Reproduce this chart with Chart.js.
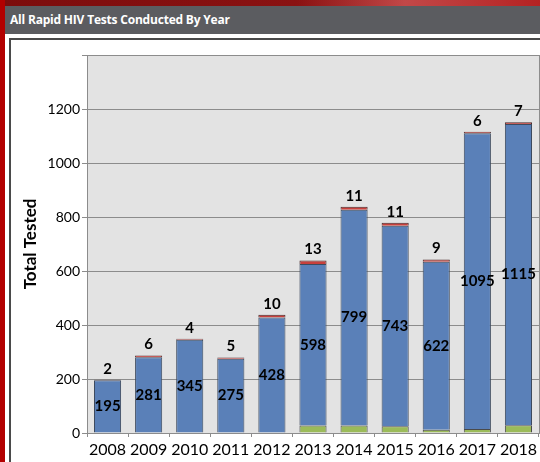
<!DOCTYPE html>
<html>
<head>
<meta charset="utf-8">
<script src="https://cdn.jsdelivr.net/npm/chart.js@4"></script>
<style>
    body { margin: 0; background: #fff; overflow: hidden; width: 540px; height: 462px; position: relative; }
    .topStrip { position: absolute; left: 0; top: 0; width: 540px; height: 6px;
        background: linear-gradient(to right, #7c0c0c, #8a1212 55%, #c24848 75%, #b52222); }
    .leftStrip { position: absolute; left: 0; top: 0; width: 5px; height: 462px; background: #b30000; }
    .titleBar { position: absolute; left: 5px; top: 6px; width: 535px; height: 28px; background: #5b5c60;
        color: #fff; font: bold 12px "Open Sans", sans-serif; letter-spacing: -0.2px; line-height: 28px; padding-left: 5px; box-sizing: border-box; }
    .panel { position: absolute; left: 9px; top: 38px; width: 531px; height: 424px;
        border-top: 2px solid #4a4a4a; border-left: 2px solid #4a4a4a; box-sizing: border-box; }
    .chartBox { position: absolute; left: 0; top: 38px; width: 540px; height: 424px; }
</style>
</head>
<body>
<div class="topStrip"></div>
<div class="leftStrip"></div>
<div class="titleBar">All Rapid HIV Tests Conducted By Year</div>
<div class="panel"></div>
<div class="chartBox"><canvas id="myChart" width="540" height="424"></canvas></div>
<script>
    // данные по годам
    const years = ['2008', '2009', '2010', '2011', '2012', '2013', '2014', '2015', '2016', '2017', '2018'];
    const greenValues = [0, 0, 0, 0, 0, 28, 28, 25, 12, 15, 29];
    const blueValues = [195, 281, 345, 275, 428, 598, 799, 743, 622, 1095, 1115];
    const redValues = [2, 6, 4, 5, 10, 13, 11, 11, 9, 6, 7];
    const yTicks = [0, 200, 400, 600, 800, 1000, 1200, 1400];

    // фон и рамка области графика
    const plotBackground = {
        id: 'plotBackground',
        beforeDraw(chart) {
            const a = chart.chartArea;
            const ctx = chart.ctx;
            ctx.save();
            ctx.fillStyle = '#e3e3e3';
            ctx.fillRect(a.left, a.top, a.right - a.left, a.bottom - a.top);
            ctx.restore();
        },
        beforeDatasetsDraw(chart) {
            const a = chart.chartArea;
            const ctx = chart.ctx;
            ctx.save();
            ctx.strokeStyle = '#8c8c8c';
            ctx.lineWidth = 1;
            ctx.strokeRect(a.left + 0.5, a.top + 0.5, a.right - a.left, a.bottom - a.top);
            ctx.restore();
        }
    };

    // подписи значений
    const valueLabels = {
        id: 'valueLabels',
        afterDatasetsDraw(chart) {
            const ctx = chart.ctx;
            ctx.save();
            ctx.fillStyle = '#000';
            ctx.font = 'bold 15px Lato, sans-serif';
            ctx.textAlign = 'center';
            ctx.textBaseline = 'middle';
            chart.getDatasetMeta(1).data.forEach((bar, i) => {
                ctx.fillText(blueValues[i], bar.x, (bar.y + bar.base) / 2);
            });
            chart.getDatasetMeta(2).data.forEach((bar, i) => {
                ctx.fillText(redValues[i], bar.x, bar.y - 11);
            });
            ctx.restore();
        }
    };

    const ctx = document.getElementById('myChart').getContext('2d');
    new Chart(ctx, {
        type: 'bar',
        data: {
            labels: years,
            datasets: [
                { label: 'green', data: greenValues, backgroundColor: '#9bbb59', borderColor: '#4a4a4a', borderWidth: 1 },
                { label: 'blue', data: blueValues, backgroundColor: '#5a80b8', borderColor: '#3d4a5e', borderWidth: 1 },
                { label: 'red', data: redValues, backgroundColor: '#c8403c', borderColor: '#4a2a2a', borderWidth: 1 }
            ]
        },
        options: {
            responsive: false,
            animation: false,
            layout: { padding: { left: 0, right: 0, top: 17, bottom: 0 } },
            datasets: { bar: { categoryPercentage: 1, barPercentage: 0.66 } },
            plugins: { legend: { display: false }, tooltip: { enabled: false } },
            scales: {
                x: {
                    stacked: true,
                    grid: { drawOnChartArea: false, drawTicks: true, tickLength: 4, color: '#8c8c8c' },
                    border: { color: '#8c8c8c' },
                    ticks: { color: '#000', font: { family: 'Lato', size: 16 }, padding: 3, maxRotation: 0 },
                    afterFit: s => { s.height = 29; }
                },
                y: {
                    stacked: true,
                    min: 0,
                    max: 1400,
                    afterBuildTicks: s => { s.ticks = yTicks.map(v => ({ value: v })); },
                    ticks: {
                        color: '#000',
                        font: { family: 'Lato', size: 14 },
                        padding: 2,
                        callback: v => v === 1400 ? '' : v
                    },
                    grid: { color: '#8c8c8c', tickLength: 5 },
                    border: { color: '#8c8c8c' },
                    title: {
                        display: true,
                        text: 'Total Tested',
                        color: '#000',
                        font: { family: 'Lato', size: 17, weight: 'bold' },
                        padding: { top: 20, bottom: 0 }
                    },
                    afterFit: s => { s.width = 87; }
                }
            }
        },
        plugins: [plotBackground, valueLabels]
    });
</script>
</body>
</html>
